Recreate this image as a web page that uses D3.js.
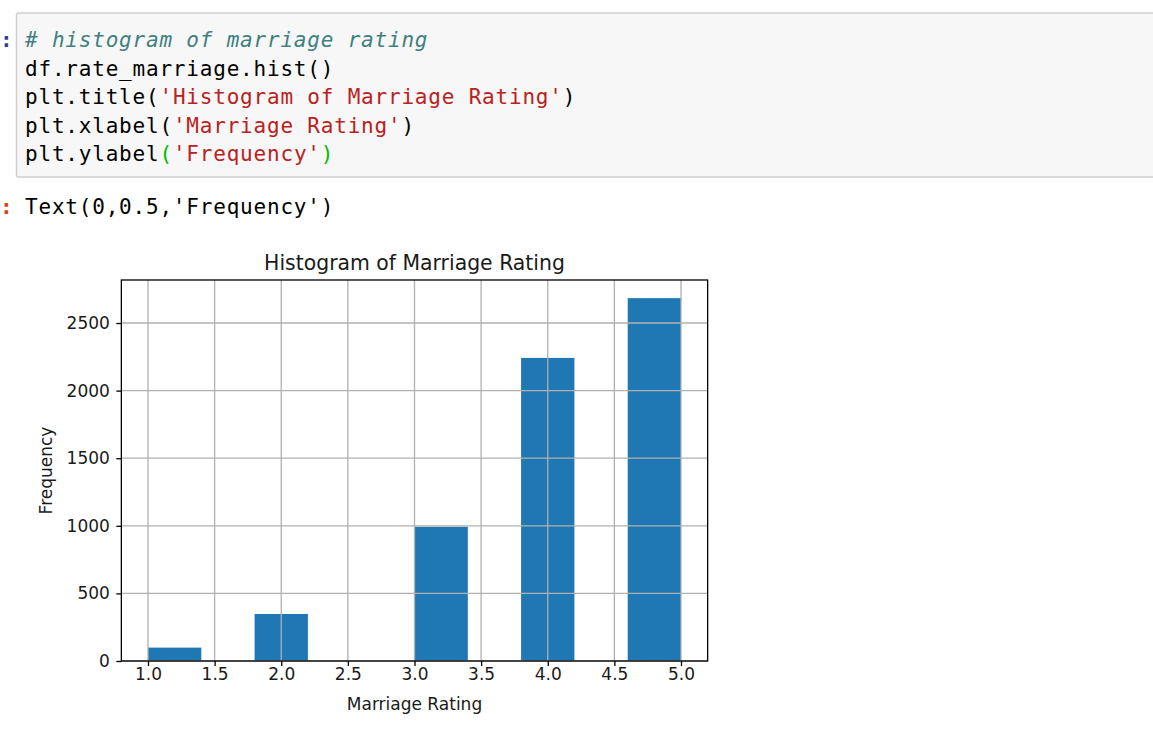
<!DOCTYPE html>
<html>
<head>
<meta charset="utf-8">
<script src="https://cdn.jsdelivr.net/npm/d3@7"></script>
<style>
    body { margin: 0; background: #fff; overflow: hidden; }
    .code { font-family: "DejaVu Sans Mono", monospace; font-size: 21px; letter-spacing: 0.8px; }
    .chart text { font-family: "DejaVu Sans", sans-serif; fill: #1a1a1a; }
</style>
</head>
<body>
<div id="page"></div>
<script>
// notebook cell text
const codeLines = [
    [["# histogram of marriage rating", "comment"]],
    [["df.rate_marriage.hist()", "plain"]],
    [["plt.title(", "plain"], ["'Histogram of Marriage Rating'", "str"], [")", "plain"]],
    [["plt.xlabel(", "plain"], ["'Marriage Rating'", "str"], [")", "plain"]],
    [["plt.ylabel", "plain"], ["(", "match"], ["'Frequency'", "str"], [")", "match"]]
]
const outText = "Text(0,0.5,'Frequency')"

// histogram data (10 bins between 1 and 5)
const binLo = [1.0, 1.4, 1.8, 2.2, 2.6, 3.0, 3.4, 3.8, 4.2, 4.6]
const binHi = [1.4, 1.8, 2.2, 2.6, 3.0, 3.4, 3.8, 4.2, 4.6, 5.0]
const counts = [99, 0, 348, 0, 0, 993, 0, 2242, 0, 2684]
const xTicks = [1.0, 1.5, 2.0, 2.5, 3.0, 3.5, 4.0, 4.5, 5.0]
const yTicks = [0, 500, 1000, 1500, 2000, 2500]

const W = 1153, H = 729
const colors = { plain: "#000", comment: "#408080", str: "#BA2121", match: "#00bb00" }

const svg = d3.select("#page").append("svg")
    .attr("width", W)
    .attr("height", H)

// input cell
svg.append("rect")
    .attr("x", 16.5).attr("y", 13)
    .attr("width", W).attr("height", 164)
    .attr("rx", 2)
    .attr("fill", "#f7f7f7")
    .attr("stroke", "#cfcfcf")
    .attr("stroke-width", 1.5)

svg.append("text").attr("class", "code")
    .attr("x", 0).attr("y", 47)
    .attr("fill", "#303F9F").attr("font-weight", "bold")
    .text(":")

const lineY = [47, 75.6, 104.2, 132.8, 161.4]
codeLines.forEach((line, i) => {
    const t = svg.append("text").attr("class", "code")
        .attr("x", 25).attr("y", lineY[i])
        .attr("xml:space", "preserve")
    line.forEach(([s, k]) => {
        t.append("tspan")
            .attr("fill", colors[k])
            .attr("font-style", k == "comment" ? "italic" : null)
            .text(s)
    })
})

// output prompt + text
svg.append("text").attr("class", "code")
    .attr("x", 0).attr("y", 213.5)
    .attr("fill", "#D84315").attr("font-weight", "bold")
    .text(":")
svg.append("text").attr("class", "code")
    .attr("x", 25).attr("y", 213.5)
    .attr("fill", "#000")
    .text(outText)

// chart
const margin = { left: 121.35, right: 707.65, top: 280, bottom: 661 }
const g = svg.append("g").attr("class", "chart")

const x = d3.scaleLinear().domain([0.8, 5.2]).range([margin.left, margin.right])
const y = d3.scaleLinear().domain([0, 2684 * 1.05]).range([margin.bottom, margin.top])

g.append("g")
    .selectAll("rect")
    .data(counts)
    .join("rect")
    .attr("x", (d, i) => x(binLo[i]))
    .attr("width", (d, i) => x(binHi[i]) - x(binLo[i]))
    .attr("y", d => y(d))
    .attr("height", d => y(0) - y(d))
    .attr("fill", "#1f77b4")

// grid on top of the bars, like old pandas hist
const grid = g.append("g")
    .attr("stroke", "#b0b0b0")
    .attr("stroke-width", 1.3)
grid.selectAll(".vx").data(xTicks).join("line")
    .attr("x1", d => x(d)).attr("x2", d => x(d))
    .attr("y1", margin.top).attr("y2", margin.bottom)
grid.selectAll(".hy").data(yTicks).join("line")
    .attr("y1", d => y(d)).attr("y2", d => y(d))
    .attr("x1", margin.left).attr("x2", margin.right)

g.append("g")
    .attr("transform", `translate(0,${margin.bottom})`)
    .call(d3.axisBottom(x).tickValues(xTicks).tickFormat(d3.format(".1f")).tickSize(5).tickPadding(2))
    .call(a => a.select(".domain").remove())
    .call(a => a.selectAll(".tick line").attr("stroke", "#000").attr("stroke-width", 1.3))
    .call(a => a.selectAll("text").attr("font-size", 17).attr("font-family", null))

g.append("g")
    .attr("transform", `translate(${margin.left},0)`)
    .call(d3.axisLeft(y).tickValues(yTicks).tickFormat(d3.format("d")).tickSize(5).tickPadding(6.5))
    .call(a => a.select(".domain").remove())
    .call(a => a.selectAll(".tick line").attr("stroke", "#000").attr("stroke-width", 1.3))
    .call(a => a.selectAll("text").attr("font-size", 17).attr("font-family", null))

// spines
g.append("rect")
    .attr("x", margin.left).attr("y", margin.top)
    .attr("width", margin.right - margin.left)
    .attr("height", margin.bottom - margin.top)
    .attr("fill", "none")
    .attr("stroke", "#000")
    .attr("stroke-width", 1.3)

const cx = (margin.left + margin.right) / 2
g.append("text")
    .attr("x", cx).attr("y", 270)
    .attr("text-anchor", "middle")
    .attr("font-size", 20.4)
    .text("Histogram of Marriage Rating")

g.append("text")
    .attr("x", cx).attr("y", 710)
    .attr("text-anchor", "middle")
    .attr("font-size", 17)
    .text("Marriage Rating")

g.append("text")
    .attr("transform", `translate(52,${(margin.top + margin.bottom) / 2}) rotate(-90)`)
    .attr("text-anchor", "middle")
    .attr("font-size", 17)
    .text("Frequency")
</script>
</body>
</html>
